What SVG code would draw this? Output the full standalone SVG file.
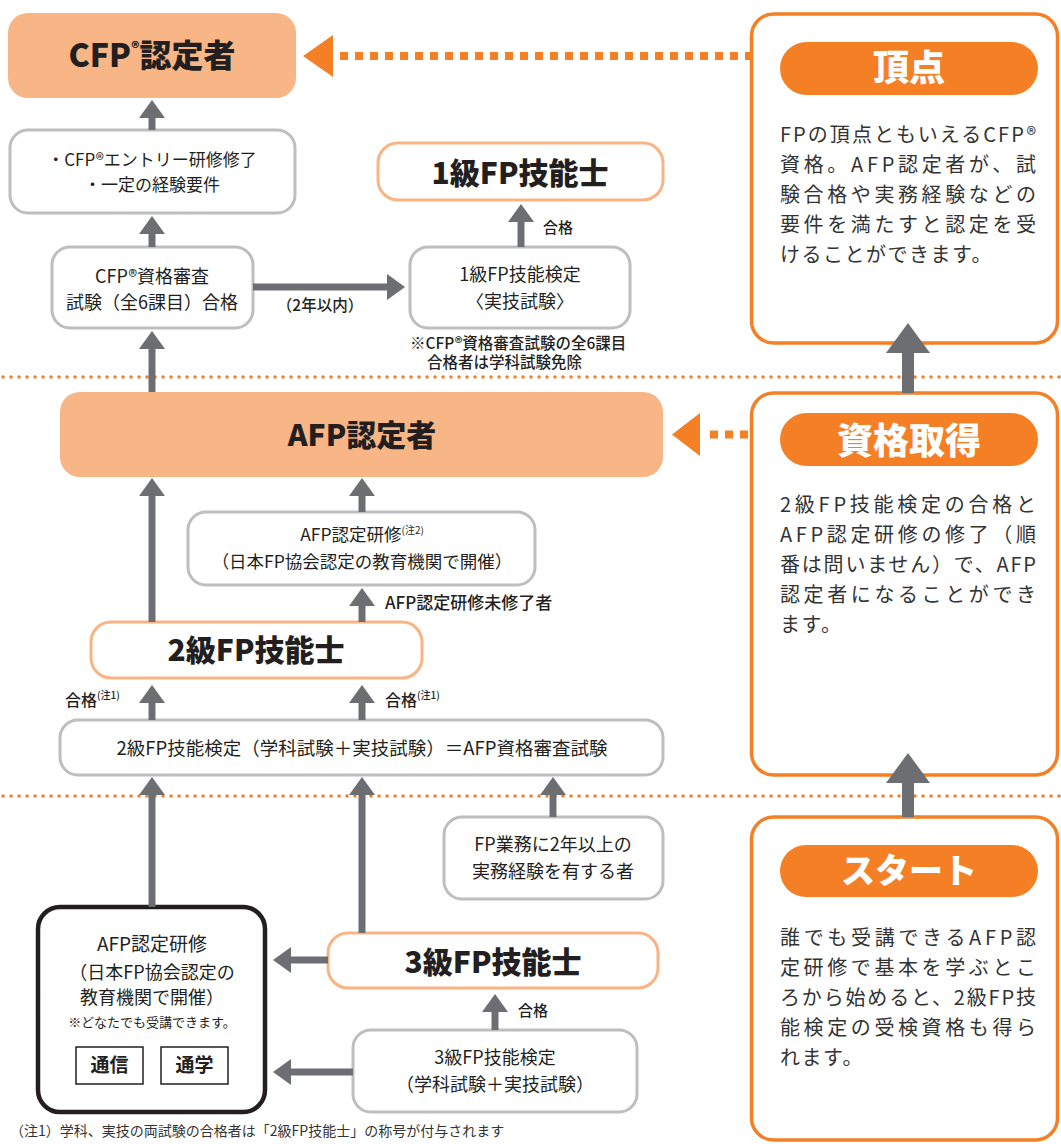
<svg xmlns="http://www.w3.org/2000/svg" width="1061" height="1144" viewBox="0 0 1061 1144">
<style>
text{font-family:"Noto Sans CJK JP","Noto Sans",sans-serif;fill:#231f20}
.t{font-size:18px;text-anchor:middle;font-weight:400}
.s{font-size:17px;font-weight:500}
.h{font-size:30px;font-weight:900;text-anchor:middle}
.gb{fill:#fff;stroke:#bcbec0;stroke-width:3}
.ob{fill:#fff;stroke:#f9b486;stroke-width:3}
.of{fill:#f8b585}
.rb{fill:#fff;stroke:#f47f24;stroke-width:3.5}
.pill{fill:#f47f24}
.pt{font-size:36px;font-weight:900;fill:#fff;text-anchor:middle}
.body{font-size:20px;fill:#333}
.c{stroke:#6d6e71;stroke-width:7;fill:none}
.cb{stroke:#6d6e71;stroke-width:12;fill:none}
.sep{stroke:#f47f24;stroke-width:3.5;stroke-linecap:round;stroke-dasharray:0 8;fill:none}
.dsh{stroke:#f47f24;stroke-width:8;stroke-dasharray:8 7;fill:none}
.sup{font-size:10px}
</style>
<defs>
<marker id="ah" markerUnits="userSpaceOnUse" markerWidth="18" markerHeight="26" viewBox="0 0 18 26" refX="0" refY="13" orient="auto"><path d="M0,0 L18,13 L0,26 z" fill="#6d6e71"/></marker>
<marker id="ahb" markerUnits="userSpaceOnUse" markerWidth="30" markerHeight="44" viewBox="0 0 30 44" refX="0" refY="22" orient="auto"><path d="M0,0 L30,22 L0,44 z" fill="#6d6e71"/></marker>
</defs>

<g id="separators">
<line class="sep" x1="3" y1="377" x2="1061" y2="377"/>
<line class="sep" x1="3" y1="796" x2="1061" y2="796"/>
</g>

<g id="cfp-holder"><rect class="of" x="8" y="13" width="288" height="85" rx="20"/>
<text class="h" x="152" y="67" style="font-size:32px">CFP<tspan style="font-size:16px" dy="-13">®</tspan><tspan dy="13">認定者</tspan></text></g>

<g id="cfp-entry"><rect class="gb" x="10" y="130" width="285" height="83" rx="18"/>
<text class="t" x="152" y="166" style="font-size:17px">・CFP®エントリー研修修了</text>
<text class="t" x="152" y="191" style="font-size:17px">・一定の経験要件</text></g>

<g id="cfp-exam"><rect class="gb" x="52" y="247" width="201" height="81" rx="18"/>
<text class="t" x="152" y="283">CFP®資格審査</text>
<text class="t" x="152" y="309">試験（全6課目）合格</text></g>

<g id="fp1"><rect class="ob" x="378" y="143" width="285" height="57" rx="20"/>
<text class="h" x="520" y="184">1級FP技能士</text></g>

<g id="fp1-exam"><rect class="gb" x="410" y="247" width="220" height="81" rx="18"/>
<text class="t" x="520" y="281">1級FP技能検定</text>
<text class="t" x="520" y="308">〈実技試験〉</text>
<text style="font-size:15.5px;font-weight:500" x="410" y="349">※CFP®資格審査試験の全6課目</text>
<text style="font-size:15.5px;font-weight:500" x="427" y="368">合格者は学科試験免除</text></g>

<g id="afp-holder"><rect class="of" x="60" y="392" width="603" height="85" rx="20"/>
<text class="h" x="362" y="446">AFP認定者</text></g>

<g id="afp-training2"><rect class="gb" x="188" y="512" width="347" height="73" rx="18"/>
<text class="t" x="362" y="541" style="font-size:17.5px">AFP認定研修<tspan class="sup" dy="-7">(注2)</tspan></text>
<text class="t" x="362" y="568" style="font-size:17.5px">（日本FP協会認定の教育機関で開催）</text></g>

<g id="fp2"><rect class="ob" x="91" y="622" width="331" height="56" rx="20"/>
<text class="h" x="256" y="661">2級FP技能士</text></g>

<g id="fp2-exam"><rect class="gb" x="60" y="720" width="603" height="55" rx="18"/>
<text class="t" x="362" y="755" style="font-size:18.5px">2級FP技能検定（学科試験＋実技試験）＝AFP資格審査試験</text></g>

<g id="experience"><rect class="gb" x="444" y="817" width="219" height="82" rx="18"/>
<text class="t" x="553" y="851">FP業務に2年以上の</text>
<text class="t" x="553" y="878">実務経験を有する者</text></g>

<g id="fp3"><rect class="ob" x="328" y="933" width="330" height="55" rx="20"/>
<text class="h" x="493" y="973">3級FP技能士</text></g>

<g id="fp3-exam"><rect class="gb" x="353" y="1030" width="284" height="82" rx="18"/>
<text class="t" x="495" y="1064">3級FP技能検定</text>
<text class="t" x="495" y="1091">（学科試験＋実技試験）</text></g>

<g id="afp-training"><rect x="38" y="907" width="227" height="205" rx="22" fill="#fff" stroke="#231f20" stroke-width="4.5"/>
<text class="t" x="152" y="951" style="font-size:19px">AFP認定研修</text>
<text class="t" x="152" y="979">（日本FP協会認定の</text>
<text class="t" x="152" y="1004">教育機関で開催）</text>
<text class="t" x="152" y="1027" style="font-size:13px">※どなたでも受講できます。</text>
<rect x="76" y="1047" width="67" height="37" fill="#fff" stroke="#231f20" stroke-width="1.5"/>
<text x="109.5" y="1072" style="font-size:19px;font-weight:700;text-anchor:middle">通信</text>
<rect x="161" y="1047" width="67" height="37" fill="#fff" stroke="#231f20" stroke-width="1.5"/>
<text x="194.5" y="1072" style="font-size:19px;font-weight:700;text-anchor:middle">通学</text></g>

<g id="labels">
<text class="s" x="385" y="609">AFP認定研修未修了者</text>
<text class="s" x="65" y="706" style="font-size:16px">合格<tspan class="sup" dy="-7">(注1)</tspan></text>
<text class="s" x="385" y="706" style="font-size:16px">合格<tspan class="sup" dy="-7">(注1)</tspan></text>
<text class="s" x="543" y="233" style="font-size:15px">合格</text>
<text class="s" x="518" y="1016" style="font-size:15px">合格</text>
<text class="s" x="320" y="311" style="font-size:15.5px;text-anchor:middle">（2年以内）</text>
</g>

<g id="panel-top"><rect class="rb" x="751.5" y="14" width="306" height="329" rx="22"/>
<rect class="pill" x="780" y="42" width="258" height="53" rx="26.5"/>
<text class="pt" x="909" y="81">頂点</text>
<text class="body" x="780" y="142" textLength="256" lengthAdjust="spacing">FPの頂点ともいえるCFP®</text>
<text class="body" x="780" y="172" textLength="256" lengthAdjust="spacing">資格。AFP認定者が、試</text>
<text class="body" x="780" y="202" textLength="256" lengthAdjust="spacing">験合格や実務経験などの</text>
<text class="body" x="780" y="232" textLength="256" lengthAdjust="spacing">要件を満たすと認定を受</text>
<text class="body" x="780" y="262" letter-spacing="1.5">けることができます。</text></g>

<g id="panel-qualify"><rect class="rb" x="751.5" y="393" width="306" height="382" rx="22"/>
<rect class="pill" x="780" y="413" width="258" height="53" rx="26.5"/>
<text class="pt" x="909" y="454">資格取得</text>
<text class="body" x="780" y="512" textLength="256" lengthAdjust="spacing">2級FP技能検定の合格と</text>
<text class="body" x="780" y="542" textLength="256" lengthAdjust="spacing">AFP認定研修の修了（順</text>
<text class="body" x="780" y="572" textLength="256" lengthAdjust="spacing">番は問いません）で、AFP</text>
<text class="body" x="780" y="602" textLength="256" lengthAdjust="spacing">認定者になることができ</text>
<text class="body" x="780" y="632" letter-spacing="1.5">ます。</text></g>

<g id="panel-start"><rect class="rb" x="751.5" y="817" width="306" height="323" rx="22"/>
<rect class="pill" x="780" y="845" width="258" height="52" rx="26"/>
<text class="pt" x="909" y="883" style="font-size:34px">スタート</text>
<text class="body" x="780" y="945" textLength="256" lengthAdjust="spacing">誰でも受講できるAFP認</text>
<text class="body" x="780" y="975" textLength="256" lengthAdjust="spacing">定研修で基本を学ぶとこ</text>
<text class="body" x="780" y="1005" textLength="256" lengthAdjust="spacing">ろから始めると、2級FP技</text>
<text class="body" x="780" y="1035" textLength="256" lengthAdjust="spacing">能検定の受検資格も得ら</text>
<text class="body" x="780" y="1065" letter-spacing="1.5">れます。</text></g>

<g id="connectors">
<polygon points="303,56 333,35 333,77" fill="#f47f24"/>
<line class="dsh" x1="340" y1="56" x2="750" y2="56"/>
<polygon points="672,434.5 700,413 700,456" fill="#f47f24"/>
<line class="dsh" x1="710" y1="434.5" x2="750" y2="434.5"/>
<line class="c" x1="152" y1="130" x2="152" y2="118" marker-end="url(#ah)"/>
<line class="c" x1="152" y1="247" x2="152" y2="234" marker-end="url(#ah)"/>
<line class="c" x1="152" y1="392" x2="152" y2="349" marker-end="url(#ah)"/>
<line class="c" x1="253" y1="287" x2="387" y2="287" marker-end="url(#ah)"/>
<line class="c" x1="521" y1="247" x2="521" y2="222" marker-end="url(#ah)"/>
<line class="c" x1="362" y1="512" x2="362" y2="496" marker-end="url(#ah)"/>
<line class="c" x1="152" y1="622" x2="152" y2="496" marker-end="url(#ah)"/>
<line class="c" x1="362" y1="622" x2="362" y2="606" marker-end="url(#ah)"/>
<line class="c" x1="152" y1="720" x2="152" y2="703" marker-end="url(#ah)"/>
<line class="c" x1="362" y1="720" x2="362" y2="703" marker-end="url(#ah)"/>
<line class="c" x1="152" y1="907" x2="152" y2="795" marker-end="url(#ah)"/>
<line class="c" x1="362" y1="933" x2="362" y2="795" marker-end="url(#ah)"/>
<line class="c" x1="553" y1="817" x2="553" y2="795" marker-end="url(#ah)"/>
<line class="c" x1="328" y1="960" x2="291" y2="960" marker-end="url(#ah)"/>
<line class="c" x1="353" y1="1072" x2="291" y2="1072" marker-end="url(#ah)"/>
<line class="c" x1="495" y1="1030" x2="495" y2="1012" marker-end="url(#ah)"/>
<line class="cb" x1="908" y1="393" x2="908" y2="353" marker-end="url(#ahb)"/>
<line class="cb" x1="908" y1="817" x2="908" y2="783" marker-end="url(#ahb)"/>
</g>

<text x="10" y="1136" style="font-size:14px;fill:#333">（注1）学科、実技の両試験の合格者は「2級FP技能士」の称号が付与されます</text>
</svg>
